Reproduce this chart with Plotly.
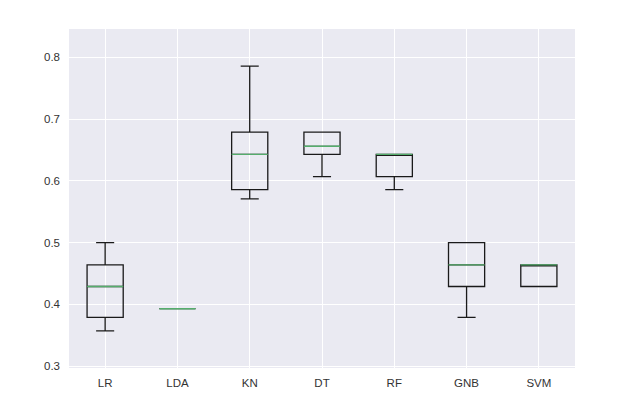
import plotly.graph_objects as go

models = ["LR", "LDA", "KN", "DT", "RF", "GNB", "SVM"]
lower = [0.357, 0.393, 0.571, 0.607, 0.586, 0.379, 0.429]
q1 = [0.379, 0.393, 0.586, 0.643, 0.607, 0.429, 0.429]
median = [0.429, 0.393, 0.643, 0.656, 0.643, 0.464, 0.464]
q3 = [0.464, 0.393, 0.679, 0.679, 0.643, 0.500, 0.464]
upper = [0.500, 0.393, 0.786, 0.679, 0.643, 0.500, 0.464]

fig = go.Figure()

# box + whiskers in black
fig.add_trace(
    go.Box(
        x=models,
        q1=q1,
        median=median,
        q3=q3,
        lowerfence=lower,
        upperfence=upper,
        fillcolor="rgba(0,0,0,0)",
        line=dict(color="#1a1a1a", width=1.3),
        whiskerwidth=0.5,
        width=0.5,
        boxpoints=False,
        hoverinfo="skip",
    )
)

# median lines in green, drawn as flat boxes on top
fig.add_trace(
    go.Box(
        x=models,
        q1=median,
        median=median,
        q3=median,
        lowerfence=median,
        upperfence=median,
        fillcolor="rgba(0,0,0,0)",
        line=dict(color="#55ad6c", width=1.4),
        whiskerwidth=0,
        width=0.5,
        boxpoints=False,
        hoverinfo="skip",
    )
)

# page body adds 8px offset, so margins are reduced by 8 on left/top
fig.update_layout(
    width=628,
    height=412,
    margin=dict(l=61, r=61, t=21, b=52),
    paper_bgcolor="white",
    plot_bgcolor="#EAEAF2",
    showlegend=False,
    boxmode="overlay",
    font=dict(family="Liberation Sans, Arial, sans-serif", size=11.5, color="#333333"),
    xaxis=dict(
        range=[-0.5, 6.5],
        showgrid=True,
        gridcolor="white",
        gridwidth=1,
        zeroline=False,
        ticks="",
        ticklabelstandoff=6,
    ),
    yaxis=dict(
        range=[0.297, 0.846],
        tickvals=[0.3, 0.4, 0.5, 0.6, 0.7, 0.8],
        ticktext=["0.3", "0.4", "0.5", "0.6", "0.7", "0.8"],
        showgrid=True,
        gridcolor="white",
        gridwidth=1,
        zeroline=False,
        ticks="",
        ticklabelstandoff=8,
    ),
)

fig.write_html("out.html")
